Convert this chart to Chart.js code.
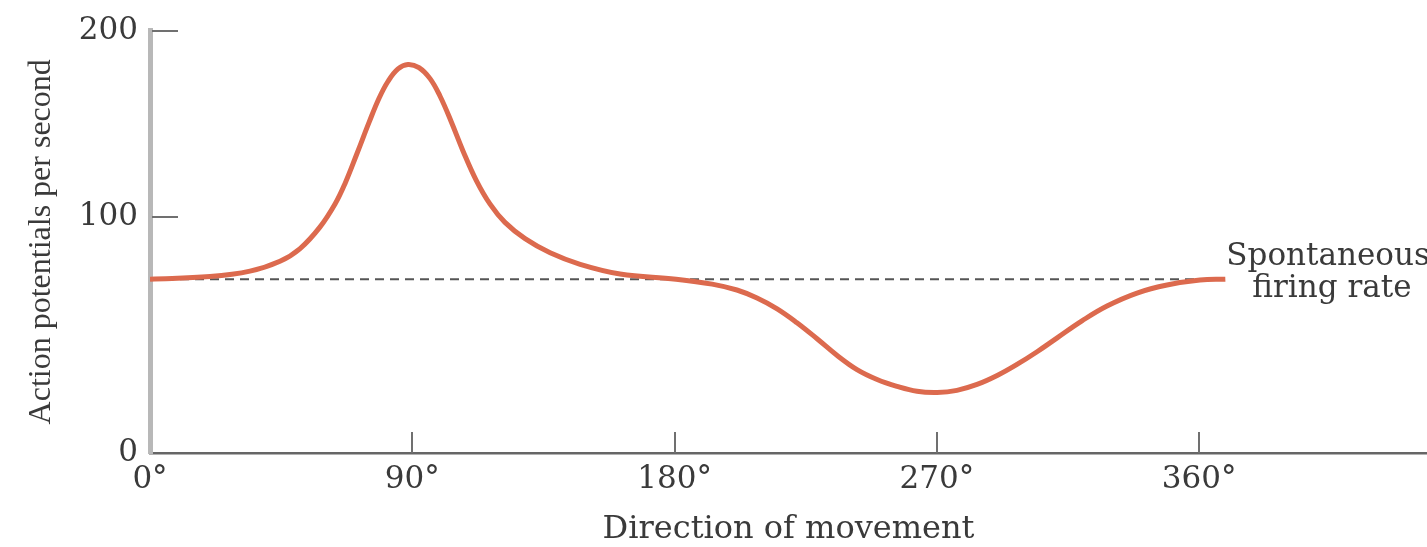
<!DOCTYPE html>
<html><head><meta charset="utf-8">
<script src="https://cdn.jsdelivr.net/npm/chart.js@4.4.0/dist/chart.umd.min.js"></script>
<style>html,body{margin:0;padding:0;background:#fff}#wrap{width:1427px;height:547px}</style>
</head><body><div id="wrap"><canvas id="c" width="1427" height="547"></canvas></div>
<script>
// ---- data ----
const directionDeg = [0, 20.6, 34.3, 44.6, 51.5, 58.3, 63.5, 66.9, 71, 75.2, 78.6, 81.7, 85.1, 88.5, 92.3, 96.1, 99.5, 103.3, 107.4, 111.9, 116.7, 121.8, 128.7, 137.3, 147.6, 161.3, 180.5, 192.9, 201.4, 208.3, 215.2, 222, 228.9, 235.8, 242.6, 249.5, 256.3, 263.2, 270.1, 276.9, 283.8, 290.7, 297.5, 304.4, 311.3, 319.8, 328.4, 338.7, 349, 360.3, 369];
const firingRate   = [73.8, 74.9, 77.2, 81.4, 86.8, 95.9, 107.2, 118.1, 134.1, 151, 163.8, 172.9, 179.5, 181.9, 180.2, 174.3, 165, 151.5, 135.6, 120, 107.1, 97.9, 91, 85, 80.1, 76, 73.8, 71.7, 69.2, 65.8, 61.2, 55.3, 48.5, 41.4, 35.4, 31.2, 28.3, 26.2, 25.7, 26.6, 29.1, 32.9, 37.6, 43, 48.9, 56.1, 62.4, 67.9, 71.3, 73.4, 73.8];
const spontaneousDeg  = [0, 369];
const spontaneousRate = [73.8, 73.8];
const xTickValues = [0, 90, 180, 270, 360];
const xTickLabels = ['0°', '90°', '180°', '270°', '360°'];
const yTickValues = [0, 100, 200];
const yTickLabels = ['0', '100', '200'];
const xTitle = 'Direction of movement';
const yTitle = 'Action potentials per second';
const annotationLines = ['Spontaneous', 'firing rate'];

// ---- piecewise linear value axis (the printed axis is not evenly spaced) ----
class PiecewiseScale extends Chart.LinearScale {
  _dec(value) {
    const bp = this.options.breakValue, bf = this.options.breakFraction;
    if (value <= bp) return (value - this.min) / (bp - this.min) * bf;
    return bf + (value - bp) / (this.max - bp) * (1 - bf);
  }
  getPixelForValue(value) { return this.getPixelForDecimal(this._dec(value)); }
  getValueForPixel(pixel) {
    const d = this.getDecimalForPixel(pixel);
    const bp = this.options.breakValue, bf = this.options.breakFraction;
    if (d <= bf) return this.min + d / bf * (bp - this.min);
    return bp + (d - bf) / (1 - bf) * (this.max - bp);
  }
}
PiecewiseScale.id = 'piecewise';
Chart.register(PiecewiseScale);

const textColor = '#3a3a3a';

const innerTicks = {
  id: 'innerTicks',
  afterDraw(chart) {
    const {ctx, chartArea, scales: {x, y}} = chart;
    ctx.save();
    ctx.strokeStyle = '#707070';
    ctx.lineWidth = 2;
    y.ticks.forEach(t => {
      if (t.value === y.min) return;
      const py = Math.round(y.getPixelForValue(t.value));
      ctx.beginPath(); ctx.moveTo(chartArea.left + 2, py); ctx.lineTo(chartArea.left + 28, py); ctx.stroke();
    });
    x.ticks.forEach(t => {
      if (t.value === x.min) return;
      const px = Math.round(x.getPixelForValue(t.value));
      ctx.beginPath(); ctx.moveTo(px, chartArea.bottom); ctx.lineTo(px, chartArea.bottom - 21); ctx.stroke();
    });
    // annotation next to the end of the spontaneous-rate line
    const ex = x.getPixelForValue(spontaneousDeg[spontaneousDeg.length - 1]);
    const ey = y.getPixelForValue(spontaneousRate[spontaneousRate.length - 1]);
    ctx.fillStyle = textColor;
    ctx.font = '31px "DejaVu Serif"';
    ctx.textAlign = 'left';
    ctx.textBaseline = 'middle';
    ctx.fillText(annotationLines[0], ex + 1, ey - 22);
    ctx.fillText(annotationLines[1], ex + 27, ey + 10);
    ctx.restore();
  }
};

new Chart(document.getElementById('c'), {
  type: 'line',
  data: {
    datasets: [
      {
        data: directionDeg.map((d, i) => ({x: d, y: firingRate[i]})),
        borderColor: '#dc6a4e',
        borderWidth: 5,
        pointRadius: 0,
        tension: 0.4,
        fill: false
      },
      {
        data: spontaneousDeg.map((d, i) => ({x: d, y: spontaneousRate[i]})),
        borderColor: '#555555',
        borderWidth: 2,
        borderDash: [9, 6],
        pointRadius: 0,
        fill: false
      }
    ]
  },
  options: {
    responsive: false,
    animation: false,
    devicePixelRatio: 1,
    layout: {padding: {top: 28, right: 0, bottom: 0, left: 0}},
    plugins: {legend: {display: false}, tooltip: {enabled: false}},
    scales: {
      x: {
        type: 'linear',
        min: 0, max: 438.2,
        afterFit: s => { s.height = 94; },
        afterBuildTicks: s => { s.ticks = xTickValues.map(v => ({value: v})); },
        grid: {display: true, drawOnChartArea: false, drawTicks: false},
        border: {display: true, color: '#666666', width: 2.5},
        ticks: {
          padding: 8,
          color: textColor,
          font: {family: 'DejaVu Serif', size: 31},
          maxRotation: 0,
          autoSkip: false,
          callback: v => xTickLabels[xTickValues.indexOf(v)]
        },
        title: {
          display: true, text: xTitle, color: textColor,
          font: {family: 'DejaVu Serif', size: 32, lineHeight: 1.1},
          padding: {top: 0, bottom: 0}
        }
      },
      y: {
        type: 'piecewise',
        min: 0, max: 200,
        breakValue: 100,
        breakFraction: 237 / 425,
        afterFit: s => { s.width = 150; },
        afterBuildTicks: s => { s.ticks = yTickValues.map(v => ({value: v})); },
        grid: {display: true, drawOnChartArea: false, drawTicks: false},
        border: {display: true, color: '#b8b8b8', width: 5},
        ticks: {
          padding: 12,
          color: textColor,
          font: {family: 'DejaVu Serif', size: 31},
          autoSkip: false,
          callback: v => yTickLabels[yTickValues.indexOf(v)]
        },
        title: {
          display: true, text: yTitle, color: textColor,
          font: {family: 'Liberation Serif', size: 32, lineHeight: 1.2},
          padding: {top: 22, bottom: 0}
        }
      }
    }
  },
  plugins: [innerTicks]
});
</script>
</body></html>
